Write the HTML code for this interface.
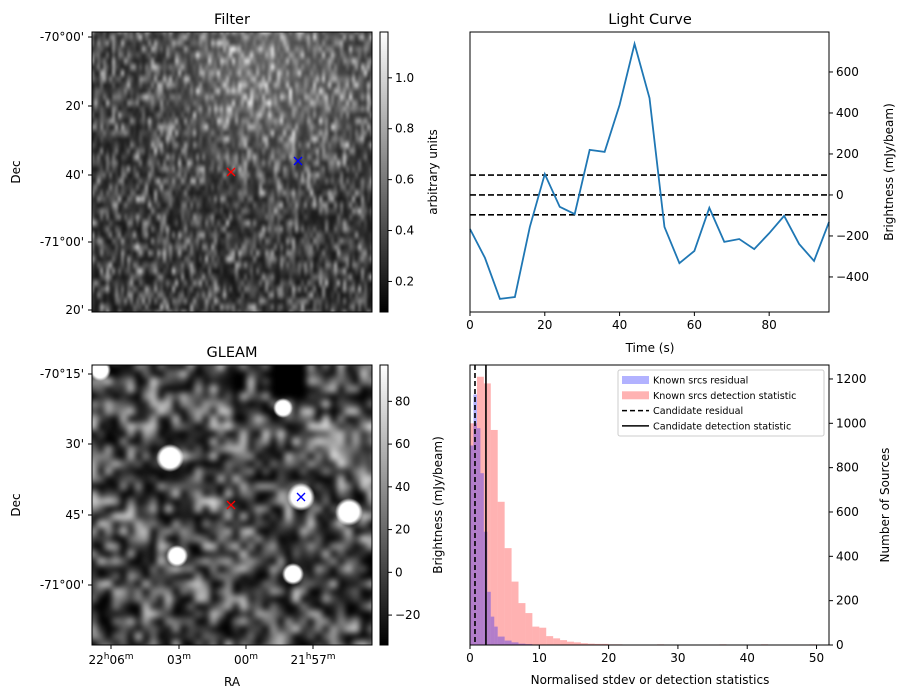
<!DOCTYPE html>
<html><head><meta charset="utf-8"><style>
body{margin:0;background:#fff;}
#root{position:relative;width:907px;height:699px;font-family:"Liberation Sans","DejaVu Sans",sans-serif;overflow:hidden;}
canvas{position:absolute;}
svg{position:absolute;left:0;top:0;}
text{font-family:"DejaVu Sans","Liberation Sans",sans-serif;font-size:12px;fill:#000;}
</style></head><body>
<div id="root">
<canvas id="filterImg" width="280" height="280" style="left:92px;top:32px"></canvas>
<canvas id="filterCb" width="8" height="280" style="left:380px;top:32px"></canvas>
<canvas id="gleamImg" width="280" height="280" style="left:92px;top:365px"></canvas>
<canvas id="gleamCb" width="8" height="280" style="left:380px;top:365px"></canvas>
<svg id="svg" width="907" height="699"></svg>
</div>
<script>
// ---- Light curve data ----
const lcTimes=[0,4,8,12,16,20,24,28,32,36,40,44,48,52,56,60,64,68,72,76,80,84,88,92,96];
const lcValues=[-166,-307,-507,-498,-156,102,-58,-93,220,210,439,737,473,-156,-333,-273,-63,-229,-215,-264,-187,-102,-239,-322,-132];
const lcThresholds=[97,0,-97];
const lcXTicks=[0,20,40,60,80];
const lcYTicks=[-400,-200,0,200,400,600];
// ---- Histogram data ----
const redBinEdgesStart=[0,1,2,3,4,5,6,7,8,9,10,11,12,13,14,15,16,17,18,19,20,21,22,23,27,36,42,49];
const redCounts=[1000,1210,1180,970,646,437,286,189,144,83,78,40,30,22,15,12,8,6,5,5,3,3,2,2,3,3,3,3];
const blueBinStart=[0,0.5,1,1.5,2,2.5,3,3.5,4,5,6,7,8];
const blueCounts=[900,1130,978,775,511,240,128,83,38,20,12,6,4];
const candResidual=0.72;
const candDetection=2.3;
const histXTicks=[0,10,20,30,40,50];
const histYTicks=[0,200,400,600,800,1000,1200];
const filterCbTicks=[0.2,0.4,0.6,0.8,1.0];
const gleamCbTicks=[-20,0,20,40,60,80];
const filterDecLabels=["-70°00'","20'","40'","-71°00'","20'"];
const gleamDecLabels=["-70°15'","30'","45'","-71°00'"];

const NS='http://www.w3.org/2000/svg';
const svg=document.getElementById('svg');
function el(tag,attrs,parent){const e=document.createElementNS(NS,tag);for(const k in attrs)e.setAttribute(k,attrs[k]);(parent||svg).appendChild(e);return e;}
function txt(s,x,y,anchor,name,extra){const t=el('text',Object.assign({x:x,y:y,'text-anchor':anchor||'middle'},extra||{}));t.textContent=s;return t;}

// ---- Light curve ----
const lc={l:470,r:829,t:32,b:312,x0:0,x1:96,y0:-571,y1:795};
const lx=v=>lc.l+(v-lc.x0)/(lc.x1-lc.x0)*(lc.r-lc.l);
const ly=v=>lc.b-(v-lc.y0)/(lc.y1-lc.y0)*(lc.b-lc.t);
lcThresholds.forEach(v=>{const ln=el('line',{x1:lc.l,x2:lc.r,y1:ly(v),y2:ly(v),stroke:'#000','stroke-width':1.6,'stroke-dasharray':'6,3'});});
const pl=el('polyline',{points:lcTimes.map((t,i)=>lx(t)+','+ly(lcValues[i])).join(' '),fill:'none',stroke:'#1f77b4','stroke-width':1.8});

let f=el('rect',{x:lc.l,y:lc.t,width:lc.r-lc.l,height:lc.b-lc.t,fill:'none',stroke:'#000','stroke-width':1});

lcXTicks.forEach(v=>{el('line',{x1:lx(v),x2:lx(v),y1:lc.b,y2:lc.b+4,stroke:'#000'});txt(String(v),lx(v),lc.b+17,'middle','x-tick-label');});
lcYTicks.forEach(v=>{el('line',{x1:lc.r,x2:lc.r+4,y1:ly(v),y2:ly(v),stroke:'#000'});txt(v<0?'−'+(-v):String(v),lc.r+7,ly(v)+4,'start','y-tick-label');});
txt('Light Curve',650,24,'middle','light-curve-title',{style:'font-size:14.5px'});
txt('Time (s)',650,352,'middle','x-axis-title');
txt('Brightness (mJy/beam)',893,172,'middle','y-axis-title',{transform:'rotate(-90 893 172)'});

// ---- Histogram ----
const h={l:470,r:829,t:365,b:645,x0:0,x1:51.8,y0:0,y1:1263};
const hx=v=>h.l+(v-h.x0)/(h.x1-h.x0)*(h.r-h.l);
const hy=v=>h.b-(v-h.y0)/(h.y1-h.y0)*(h.b-h.t);
redBinEdgesStart.forEach((s,i)=>{const r=el('rect',{x:hx(s),y:hy(redCounts[i]),width:hx(s+1)-hx(s),height:h.b-hy(redCounts[i]),fill:'#ff0000','fill-opacity':0.3});});
blueBinStart.forEach((s,i)=>{const w=s<4?0.5:1;const r=el('rect',{x:hx(s),y:hy(blueCounts[i]),width:hx(s+w)-hx(s),height:h.b-hy(blueCounts[i]),fill:'#0000ff','fill-opacity':0.3});});
let cl=el('line',{x1:hx(candResidual),x2:hx(candResidual),y1:h.t,y2:h.b,stroke:'#000','stroke-width':1.6,'stroke-dasharray':'5,3'});
cl=el('line',{x1:hx(candDetection),x2:hx(candDetection),y1:h.t,y2:h.b,stroke:'#000','stroke-width':1.6});
f=el('rect',{x:h.l,y:h.t,width:h.r-h.l,height:h.b-h.t,fill:'none',stroke:'#000'});
histXTicks.forEach(v=>{el('line',{x1:hx(v),x2:hx(v),y1:h.b,y2:h.b+4,stroke:'#000'});txt(String(v),hx(v),h.b+17,'middle','hist-x-tick-label');});
histYTicks.forEach(v=>{el('line',{x1:h.r,x2:h.r+4,y1:hy(v),y2:hy(v),stroke:'#000'});txt(String(v),h.r+7,hy(v)+4,'start','hist-y-tick-label');});
txt('Normalised stdev or detection statistics',650,684,'middle','hist-x-axis-title');
txt('Number of Sources',889,505,'middle','hist-y-axis-title',{transform:'rotate(-90 889 505)'});
// legend
const lg=el('g',{});
el('rect',{x:618,y:370,width:206,height:66,rx:2,fill:'#fff','fill-opacity':0.85,stroke:'#ccc'},lg);
const legItems=[['Known srcs residual','bluepatch'],['Known srcs detection statistic','redpatch'],['Candidate residual','dash'],['Candidate detection statistic','solid']];
legItems.forEach((it,i)=>{const y=380+i*15.3;
 if(it[1]==='bluepatch')el('rect',{x:622,y:y-4,width:27,height:8,fill:'#0000ff','fill-opacity':0.3},lg);
 else if(it[1]==='redpatch')el('rect',{x:622,y:y-4,width:27,height:8,fill:'#ff0000','fill-opacity':0.3},lg);
 else el('line',{x1:622,x2:649,y1:y,y2:y,stroke:'#000','stroke-width':1.5,'stroke-dasharray':it[1]==='dash'?'5,3':'none'},lg);
 const t=txt(it[0],653,y+3.5,'start','legend-entry',{style:'font-size:9.6px'});lg.appendChild(t);});

// ---- image axes ----
function imgAxes(top,title,decLabels,decYs,cbTicks,cbMin,cbMax,cbLabel,cbLabelX){
 const l=92,b=top+280;
 f=el('rect',{x:l,y:top,width:280,height:280,fill:'none',stroke:'#000'});
 txt(title,232,top-8,'middle','image-title',{style:'font-size:14.5px'});
 decLabels.forEach((s,i)=>{el('line',{x1:l-4,x2:l,y1:decYs[i],y2:decYs[i],stroke:'#000'});txt(s,84,decYs[i]+4,'end','dec-tick-label');});
 txt('Dec',20,top+140,'middle','dec-axis-title',{transform:'rotate(-90 20 '+(top+140)+')'});
 el('rect',{x:380,y:top,width:8,height:280,fill:'none',stroke:'#000'});
 cbTicks.forEach(v=>{const y=b-(v-cbMin)/(cbMax-cbMin)*280;el('line',{x1:388,x2:392,y1:y,y2:y,stroke:'#000'});txt(v<0?'−'+(-v):(cbMax>5?String(v):v.toFixed(1)),395,y+4,'start','colorbar-tick-label');});
 txt(cbLabel,cbLabelX,top+140,'middle','colorbar-label',{transform:'rotate(-90 '+cbLabelX+' '+(top+140)+')'});
}
imgAxes(32,'Filter',filterDecLabels,[37,106,175,242,310],filterCbTicks,0.08,1.18,'arbitrary units',437);
imgAxes(365,'GLEAM',gleamDecLabels,[374,444,515,585],gleamCbTicks,-34,97,'Brightness (mJy/beam)',442);
const raL=[['22','06'],['','03'],['','00'],['21','57']];const raX=[111,179,246,313];
raL.forEach((p,i)=>{el('line',{x1:raX[i],x2:raX[i],y1:645,y2:649,stroke:'#000'});
 const t=el('text',{x:raX[i],y:664,'text-anchor':'middle'});
 t.innerHTML=(p[0]?p[0]+'<tspan dy="-5" style="font-size:9px">h</tspan><tspan dy="5">'+p[1]+'</tspan>':p[1])+'<tspan dy="-5" style="font-size:9px">m</tspan>';});
txt('RA',232,686,'middle','ra-axis-title');
function cross(x,y,c,name){const g=el('g',{stroke:c,'stroke-width':1.3});el('line',{x1:x-4,y1:y-4,x2:x+4,y2:y+4},g);el('line',{x1:x-4,y1:y+4,x2:x+4,y2:y-4},g);}
cross(231,172,'#f00','candidate-marker');cross(298,161,'#00f','reference-marker');
cross(231,505,'#f00','candidate-marker');cross(301,497,'#00f','reference-marker');

// ---- textures ----
let seed=12345;function rnd(){seed=(seed*1103515245+12345)&0x7fffffff;return seed/0x7fffffff;}
function drawField(id,gw,gh,fn,blur){const c=document.getElementById(id),ctx=c.getContext('2d');
 const o=document.createElement('canvas');o.width=gw;o.height=gh;const oc=o.getContext('2d');const im=oc.createImageData(gw,gh);
 for(let j=0;j<gh;j++)for(let i=0;i<gw;i++){const v=Math.max(0,Math.min(255,fn(i/gw,j/gh)));const k=(j*gw+i)*4;im.data[k]=im.data[k+1]=im.data[k+2]=v;im.data[k+3]=255;}
 oc.putImageData(im,0,0);ctx.imageSmoothingEnabled=true;ctx.fillStyle='#444';ctx.fillRect(0,0,280,280);
 ctx.filter='blur('+blur+'px)';ctx.drawImage(o,-10,-10,300,300);ctx.filter='none';return ctx;}
drawField('filterImg',100,50,(x,y)=>{const bright=60*Math.exp(-((x-0.62)**2/0.12+(y-0.15)**2/0.1));return 20+rnd()*rnd()*200+bright;},1.2);
const ctxG=drawField('gleamImg',40,40,(x,y)=>{let r=rnd();let v=r<0.2?0:r*r*230;if(x>0.62&&x<0.74&&y<0.15)v=0;if(x>0.75&&y>0.2&&y<0.4)v+=40;return v;},2.5);
[[170,458,11],[283,408,7],[301,497,11],[349,512,11],[177,556,8],[293,574,8],[100,370,8]].forEach(s=>{
 const gx=s[0]-92,gy=s[1]-365;const gr=ctxG.createRadialGradient(gx,gy,0,gx,gy,s[2]+3);gr.addColorStop(0,'#fff');gr.addColorStop(0.7,'#fff');gr.addColorStop(1,'rgba(255,255,255,0)');ctxG.fillStyle=gr;ctxG.beginPath();ctxG.arc(gx,gy,s[2]+3,0,7);ctxG.fill();});
['filterCb','gleamCb'].forEach(id=>{const ctx=document.getElementById(id).getContext('2d');const g=ctx.createLinearGradient(0,0,0,280);g.addColorStop(0,'#fff');g.addColorStop(1,'#000');ctx.fillStyle=g;ctx.fillRect(0,0,8,280);});
</script>
</body></html>
